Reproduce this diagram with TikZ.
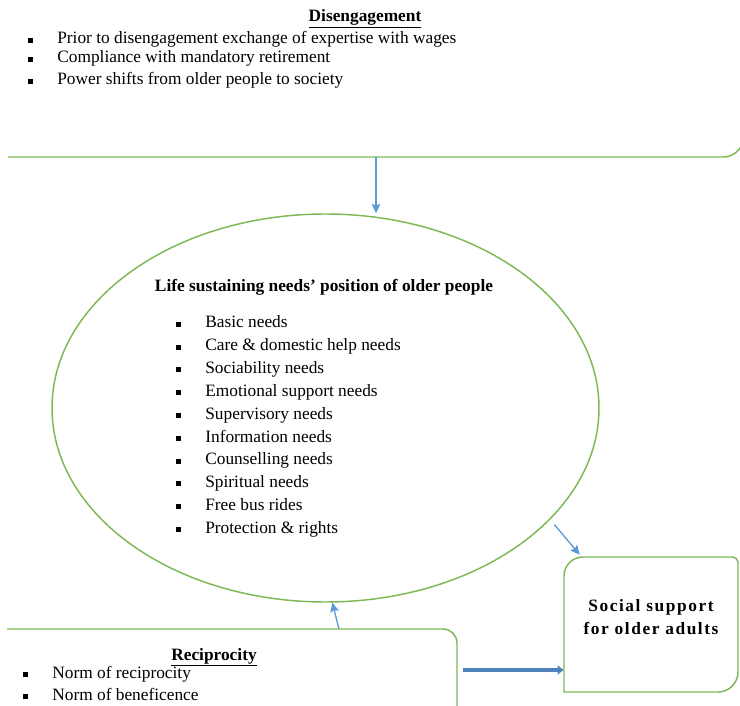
\documentclass[tikz,border=0pt]{standalone}
\usepackage{fontspec}
\setmainfont{Liberation Serif}
\newfontfamily\widebf[LetterSpace=9]{Liberation Serif}
\usetikzlibrary{arrows.meta,positioning,shapes.geometric,calc}
\definecolor{boxgreen}{RGB}{125,184,84}
\definecolor{linkblue}{RGB}{91,155,213}
\definecolor{flowblue}{RGB}{79,129,189}
\newcommand{\sqbullet}{\rule[0.9pt]{3.8pt}{3.8pt}}
\newcommand{\newItem}[4]{\node[item](#1) at (#2,#3) {\sqbullet\hspace{18pt}#4};}

\begin{document}
\begin{tikzpicture}[
    % pixel grid, y running down
    x=0.75pt,y=-0.75pt,
    font=\fontsize{13pt}{15pt}\selectfont,
    % Default arrow tip
    >={Stealth[length=7pt,width=6.5pt,inset=1.2pt]},
    outline/.style={draw=boxgreen,line width=1.1pt},
    link/.style={->,draw=linkblue,line width=1pt},
    heading/.style={font=\fontsize{13pt}{15pt}\selectfont\bfseries,inner sep=0pt,anchor=base},
    item/.style={anchor=base west,inner sep=0pt}
    ]
    \useasboundingbox (0,0) rectangle (740,706);
    \clip (0,0) rectangle (740,706);

    % Disengagement box (only its lower edge shows)
    \draw[outline] (8,157) -- (724,157) .. controls (735,157) and (744,146) .. (744,137) -- (744,-20);
    \node[heading] (disTitle) at (365,22) {\underline{Disengagement}};
    \newItem{dis1}{28}{44}{Prior to disengagement exchange of expertise with wages}
    \newItem{dis2}{28}{63}{Compliance with mandatory retirement}
    \newItem{dis3}{28}{85}{Power shifts from older people to society}
    \coordinate (disBot) at (376,157);

    % needs ellipse
    \node[ellipse,outline,minimum width=410.25pt,minimum height=291pt,inner sep=0pt] (needs) at (325.5,408) {};
    \node[heading] (needsTitle) at (324,292) {Life sustaining needs’ position of older people};
    \foreach \need [count=\i] in {Basic needs,Care \& domestic help needs,Sociability needs,
        Emotional support needs,Supervisory needs,Information needs,Counselling needs,
        Spiritual needs,Free bus rides,Protection \& rights}
      {\newItem{need\i}{176}{305.2+22.8*\i}{\need}}

    % social support box
    \node[minimum width=130.5pt,minimum height=101.25pt,inner sep=0pt] (social) at (651,624.5) {};
    \draw[outline] (564,692) -- (564,576) .. controls (564,565.5) and (572.5,557) .. (583,557) -- (732,557)
        .. controls (735.3,557) and (738,559.7) .. (738,563) -- (738,672)
        .. controls (738,683) and (729,692) .. (718,692) -- cycle;
    \node[heading,anchor=center,align=center,font=\fontsize{13pt}{17pt}\widebf\bfseries] (socialText) at (651,617) {Social support\\for older adults};

    % Reciprocity box (only its upper part shows)
    \draw[outline] (7,629) -- (443,629) .. controls (450.7,629) and (457,635.3) .. (457,643) -- (457,720);
    \node[heading] (recTitle) at (214,660) {\underline{Reciprocity}};
    \newItem{rec1}{23}{678}{Norm of reciprocity}
    \newItem{rec2}{23}{700}{Norm of beneficence}
    \coordinate (recTop) at (339,629);
    \coordinate (recRight) at (463,670);

    % connectors
    \draw[link] (disBot) -- (disBot |- needs.north);
    \draw[link] ($(needs.-27)+(6,3)$) -- ($(social.north west)+(16,-2)$);
    \draw[link] (recTop) -- (needs.-88);
    \draw[->,draw=flowblue,line width=2.3pt,>={Triangle[length=4.5pt,width=6.5pt]}] (recRight) -- (recRight -| social.west);
  \end{tikzpicture}
\end{document}
